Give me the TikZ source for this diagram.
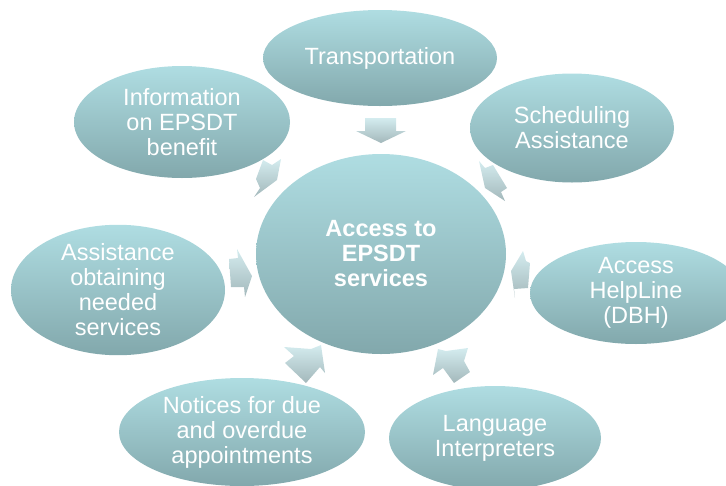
\documentclass[tikz,border=0pt]{standalone}
\usepackage{fontspec}
\setmainfont{Liberation Sans}
\usetikzlibrary{shapes.geometric}
\definecolor{elltop}{RGB}{175,221,226}
\definecolor{ellbot}{RGB}{130,168,172}
\definecolor{arrtop}{RGB}{212,236,239}
\definecolor{arrbot}{RGB}{163,184,187}
\tikzset{
  bubble/.style={ellipse, inner sep=0pt, top color=elltop, bottom color=ellbot,
    draw=none, text=white, align=center,
    font=\fontsize{23.5}{25}\selectfont},
  blockarrow/.style={top color=arrtop, bottom color=arrbot, draw=none}
}
\begin{document}
\begin{tikzpicture}[x=1pt,y=-1pt]
\useasboundingbox (0,0) rectangle (726,485);
% centre
\node[bubble, minimum width=250pt, minimum height=200pt, font=\fontsize{23.5}{25}\selectfont\bfseries] (c) at (381,254) {Access to\\EPSDT\\services};
% satellites
\node[bubble, minimum width=234pt, minimum height=96pt] (tr) at (380,58) {Transportation};
\node[bubble, minimum width=216pt, minimum height=112pt] (inf) at (182,122) {Information\\on EPSDT\\benefit};
\node[bubble, minimum width=204pt, minimum height=109pt] (sch) at (572,128) {Scheduling\\Assistance};
\node[bubble, minimum width=214pt, minimum height=112pt] (ast) at (118,290) {Assistance\\obtaining\\needed\\services};
\node[bubble, minimum width=212pt, minimum height=102pt] (hl) at (636,293) {Access\\HelpLine\\(DBH)};
\node[bubble, minimum width=246pt, minimum height=108pt] (not) at (242,432) {Notices for due\\and overdue\\appointments};
\node[bubble, minimum width=212pt, minimum height=104pt] (lan) at (495,438) {Language\\Interpreters};
% block arrows
\path[blockarrow] (365,118) -- (396,118) -- (396,131) -- (406,131) -- (381,143) -- (356,131) -- (365,131) -- cycle;
\path[blockarrow] (263,160) -- (272,165) -- (281,159) -- (277,180) -- (254,197) -- (260,188) -- (256,179) -- cycle;
\path[blockarrow] (479,161) -- (485,168) -- (493,165) -- (507,188) -- (501,192) -- (505,201) -- (485,188) -- cycle;
\path[blockarrow] (229,259) -- (238,258) -- (237,249) -- (252,276) -- (245,297) -- (244,287) -- (231,287) -- cycle;
\path[blockarrow] (523,251) -- (526,261) -- (530,263) -- (528,288) -- (514,289) -- (515,298) -- (511,271) -- cycle;
\path[blockarrow] (285,363) -- (294,356) -- (284,347) -- (311,349) -- (321,345) -- (325,373) -- (320,367) -- (306,383) -- cycle;
\path[blockarrow] (470,372) -- (464,361) -- (468,348) -- (446,351) -- (438,349) -- (433,375) -- (443,368) -- (454,383) -- cycle;
\end{tikzpicture}
\end{document}
